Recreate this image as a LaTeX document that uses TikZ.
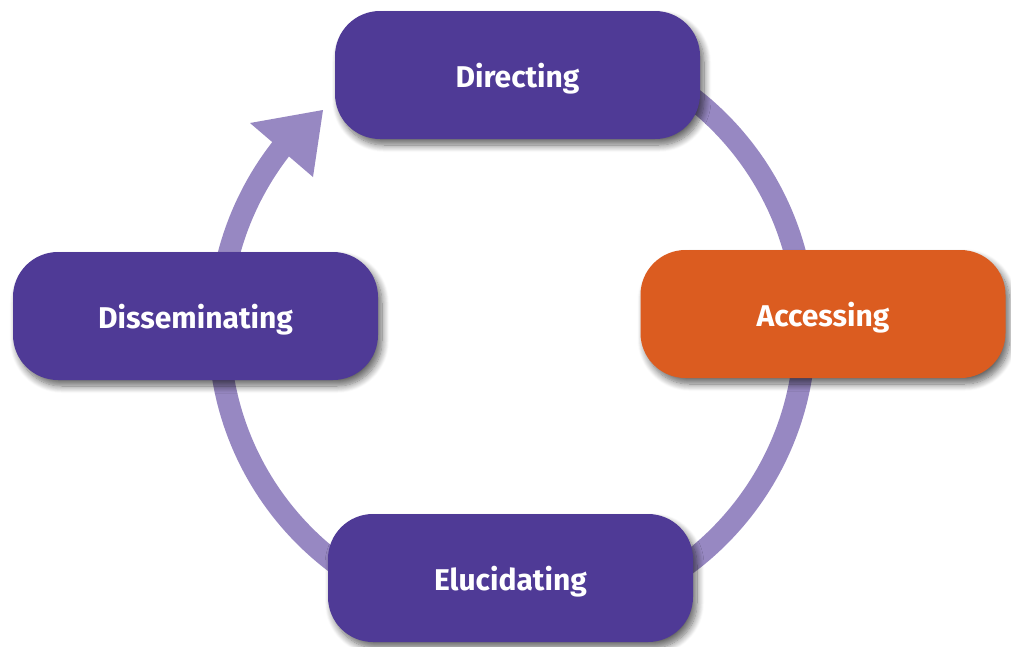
\documentclass[tikz,border=0pt]{standalone}
\usepackage{fontspec}
\setmainfont{Fira Sans}
\usetikzlibrary{shadows.blur}
\definecolor{boxpurple}{HTML}{4F3A96}
\definecolor{boxorange}{HTML}{DB5C20}
\definecolor{ringcol}{HTML}{9788C2}
\begin{document}
\begin{tikzpicture}[x=1pt,y=1pt,
  stage/.style={rounded corners=45pt, minimum width=365pt, minimum height=128pt,
    fill=boxpurple, text=white, inner sep=0pt, text depth=0pt, yshift=-1.5pt,
    font=\bfseries\fontsize{30}{35}\selectfont,
    blur shadow={shadow xshift=4pt, shadow yshift=-6pt, shadow blur steps=10, shadow blur radius=7pt, shadow opacity=60}},
  hot/.style={stage, fill=boxorange},
  ring/.style={draw=ringcol, line width=22pt}]
\useasboundingbox (0,0) rectangle (1011,-646);
\coordinate (C) at (512,-329);
\coordinate (tipL) at (250,-123);
\coordinate (tipT) at (323,-110);
\coordinate (tipR) at (313,-177);
\draw[ring] ([shift={(95:293)}]C) arc[start angle=95, end angle=-219, radius=293];
\fill[ringcol] (tipL) -- (tipT) -- (tipR) -- cycle;
\node[stage] (dir) at (517.5,-73.5) {Directing};
\node[hot] (acc) at (823,-312.5) {Accessing};
\node[stage] (diss) at (195.5,-314.5) {Disseminating};
\node[stage] (eluc) at (510.5,-576.5) {Elucidating};
\end{tikzpicture}
\end{document}
